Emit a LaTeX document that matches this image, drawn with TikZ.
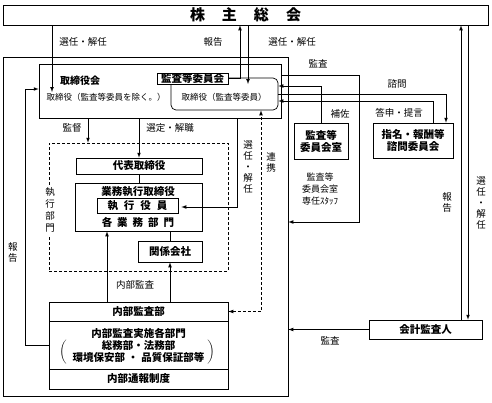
\documentclass[tikz,border=0pt]{standalone}
\usepackage{fontspec}
\setmainfont{Noto Sans CJK JP}
\usetikzlibrary{arrows}

\begin{document}
\begin{tikzpicture}[x=1pt,y=-1pt,>=latex,line width=0.7pt,
	box/.style={draw,inner sep=0pt,align=center,font=\bfseries\fontsize{10.5}{12}\selectfont},
	frame/.style={draw,inner sep=0pt},
	lbl/.style={inner sep=0pt,align=center,font=\fontsize{9.5}{11}\selectfont}]
				\useasboundingbox (0,0) rectangle (492,402);
				% boxes
				\node[box,minimum width=485,minimum height=20,font=\bfseries\fontsize{15}{15}\selectfont] (sh) at (245.5,15) {株\hspace{17pt}主\hspace{17pt}総\hspace{17pt}会};
				\node[frame,minimum width=285,minimum height=339] (company) at (145.5,226.5) {};
				\node[frame,minimum width=242,minimum height=54] (board) at (160,91) {};
				\node[lbl,font=\bfseries\fontsize{10}{12}\selectfont] (boardt) at (80,81) {取締役会};
				\node[lbl,font=\fontsize{8.5}{10}\selectfont] (dir) at (106,97) {取締役（監査等委員を除く。）};
				\node[frame,rounded corners=5,minimum width=107,minimum height=32] (rb) at (224.5,94) {};
				\node[lbl,font=\fontsize{8.5}{10}\selectfont] (acm) at (224,97) {取締役（監査等委員）};
				\node[box,fill=white,minimum width=71,minimum height=11] (ac) at (192.5,78.5) {監査等委員会};
				\node[frame,dash pattern=on 3pt off 2pt,minimum width=179,minimum height=128] (exec) at (138.5,207) {};
				\node[lbl,fill=white,inner ysep=3pt,font=\fontsize{9.5}{12}\selectfont] (exect) at (50,210) {執\\行\\部\\門};
				\node[box,minimum width=126,minimum height=16] (rep) at (139,166) {代表取締役};
				\node[frame,minimum width=127,minimum height=48] (biz) at (138.5,207) {};
				\node[lbl,font=\bfseries\fontsize{10.5}{12}\selectfont] (bizt) at (138,192) {業務執行取締役};
				\node[box,minimum width=81,minimum height=15] (eo) at (137.5,205.5) {執\hspace{6pt}行\hspace{6pt}役\hspace{6pt}員};
				\node[lbl,font=\bfseries\fontsize{10.5}{12}\selectfont] (dept) at (138,222) {各\hspace{5pt}業\hspace{5pt}務\hspace{5pt}部\hspace{5pt}門};
				\node[box,minimum width=64,minimum height=21] (gr) at (170,251.5) {関係会社};
				\node[box,minimum width=179,minimum height=19] (iad) at (138.5,311.5) {内部監査部};
				\node[box,minimum width=179,minimum height=48] (iadx) at (138.5,345) {内部監査実施各部門\\総務部・法務部\\環境保安部\hspace{3pt}・\hspace{3pt}品質保証部等};
				\node[box,minimum width=179,minimum height=20] (whb) at (138.5,379) {内部通報制度};
				\node[lbl] (lp) at (63,352) {$\bigg($};
				\node[lbl] (rp) at (211,352) {$\bigg)$};
				\node[box,minimum width=54,minimum height=36] (acr) at (321,141) {監査等\\委員会室};
				\node[lbl,font=\fontsize{9}{12}\selectfont] (staff) at (320,189) {監査等\\委員会室\\専任ｽﾀｯﾌ};
				\node[box,minimum width=80,minimum height=35] (nom) at (413,140.5) {指名・報酬等\\諮問委員会};
				\node[box,minimum width=113,minimum height=19] (ca) at (425.5,329.5) {会計監査人};
				% labels
				\node[lbl] (l1) at (83,42) {選任・解任};
				\node[lbl] (l2) at (213,42) {報告};
				\node[lbl] (l3) at (292,42) {選任・解任};
				\node[lbl] (l4) at (318,64) {監査};
				\node[lbl] (l5) at (397,84) {諮問};
				\node[lbl] (l6) at (340,114) {補佐};
				\node[lbl] (l7) at (399,113) {答申・提言};
				\node[lbl] (l8) at (72,128) {監督};
				\node[lbl] (l9) at (170,128) {選定・解職};
				\node[lbl] (l10) at (248,167) {選\\任\\・\\解\\任};
				\node[lbl] (l11) at (271,162) {連\\携};
				\node[lbl] (l12) at (447,202) {報\\告};
				\node[lbl] (l13) at (481,203) {選\\任\\・\\解\\任};
				\node[lbl] (l14) at (13,252) {報\\告};
				\node[lbl] (l15) at (135,285) {内部監査};
				\node[lbl] (l16) at (330,341) {監査};
				% turning points
				\coordinate (selA) at (52,92);
				\coordinate (rep1) at (240,78.5);
				\coordinate (selB) at (248,84);
				\coordinate (aud1) at (359,75);
				\coordinate (aud2) at (359,222);
				\coordinate (hosa) at (321,86);
				\coordinate (shim) at (446,94);
				\coordinate (tosh) at (433,101);
				\coordinate (rep2) at (461,200);
				\coordinate (sel3) at (468,200);
				\coordinate (rep3) at (25,89);
				\coordinate (kant) at (88,118);
				\coordinate (sel4) at (237,207);
				\coordinate (ia1) at (107,302);
				\coordinate (renk) at (261,312);
				% shareholders
				\draw[->] (sh.south -| selA) -- (selA);
				\draw[->] (ac.east) -- (rep1) -- (rep1 |- sh.south);
				\draw[->] (sh.south -| selB) -- (selB);
				% audit committee side
				\draw[->] (board.east |- aud1) -- (aud1) -- (aud2) -- (company.east |- aud2);
				\draw[->] (acr.north) -- (hosa) -- (rb.east |- hosa);
				\draw[->] (rb.east |- shim) -- (shim) -- (shim |- nom.north);
				\draw[->] (tosh |- nom.north) -- (tosh) -- (rb.east |- tosh);
				% accounting auditor
				\draw[->] (rep2 |- ca.north) -- (rep2 |- sh.south);
				\draw[->] (sel3 |- sh.south) -- (sel3 |- ca.north);
				\draw[->] (ca.west) -- (company.east |- ca.west);
				% inside the company
				\draw[->] (iadx.west) -| (rep3) -- (board.west |- rep3);
				\draw[->] (board.south -| kant) -- (exec.north -| kant);
				\draw[->] (board.south -| rep.north) -- (rep.north);
				\draw (rep.south) -- (biz.north -| rep.south);
				\draw[->] (board.south -| sel4) -- (sel4) -- ([xshift=3pt]eo.east |- sel4);
				\draw (gr.north |- biz.south) -- (gr.north);
				\draw[->] (iad.north -| ia1) -- (biz.south -| ia1);
				\draw[->] (iad.north -| gr.south) -- (gr.south);
				\draw[<->,dash pattern=on 3pt off 2pt] (iad.east) -| (rb.south -| renk);
			\end{tikzpicture}
\end{document}
